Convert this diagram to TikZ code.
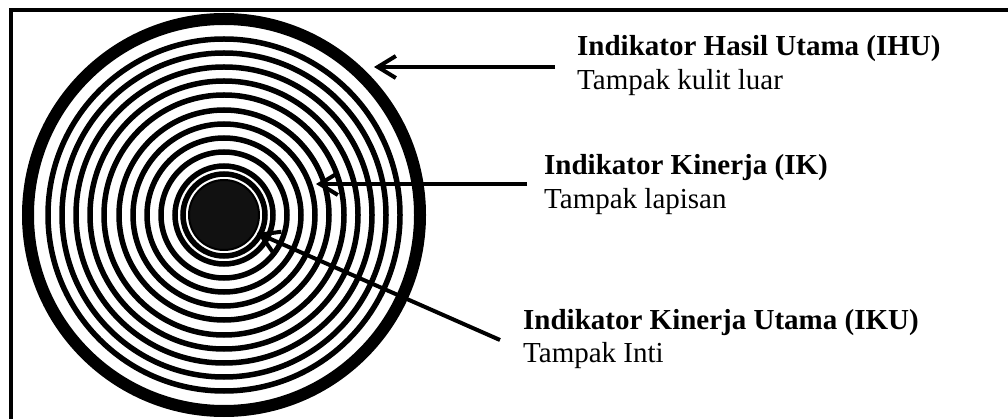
\documentclass[tikz,border=0pt]{standalone}
\usepackage{fontspec}
\setmainfont{Liberation Serif}
\usetikzlibrary{arrows.meta}
\definecolor{core}{HTML}{111111}
\begin{document}
\begin{tikzpicture}[x=1pt,y=-1pt,
  frame/.style={line width=4pt,line join=miter},
  ring/.style={draw=black,line width=5.5pt},
  rim/.style={draw=black,line width=12pt},
  coredisk/.style={draw=black,line width=2pt,fill=core},
  title/.style={font=\fontsize{29}{34}\selectfont\bfseries,inner sep=0pt,anchor=base west},
  subtitle/.style={font=\fontsize{29}{34}\selectfont,inner sep=0pt,anchor=base west},
  pointer/.style={line width=4pt,-{Straight Barb[length=18pt,width=22pt]}}]
\useasboundingbox (0,0) rectangle (1008,419);
\fill[white] (0,0) rectangle (1008,419);

% open frame (top and left edges)
\draw[frame] (11,419) -- (11,10) -- (1008,10);

% concentric layers
\coordinate (ctr) at (224,215);
\draw[rim] (ctr) circle[radius=196pt];
\foreach \r in {176,162,148,134,120,105,91,77,63,49,41}
  \draw[ring] (ctr) circle[radius=\r pt];
\draw[coredisk] (ctr) circle[radius=35pt];

% labels
\node[title]    (ihu-title) at (577,56)  {Indikator Hasil Utama (IHU)};
\node[subtitle] (ihu-sub)   at (577,90)  {Tampak kulit luar};
\node[title]    (ik-title)  at (544,175) {Indikator Kinerja (IK)};
\node[subtitle] (ik-sub)    at (544,209) {Tampak lapisan};
\node[title]    (iku-title) at (523,329) {Indikator Kinerja Utama (IKU)};
\node[subtitle] (iku-sub)   at (523,362) {Tampak Inti};

% pointers
\coordinate (ihu-from) at (555,67);
\coordinate (ihu-to)   at (374,67);
\coordinate (ik-from)  at (527,184);
\coordinate (ik-to)    at (316,184);
\coordinate (iku-from) at (500,340);
\coordinate (iku-to)   at (257,233);
\draw[pointer] (ihu-from) -- (ihu-to);
\draw[pointer] (ik-from) -- (ik-to);
\draw[pointer] (iku-from) -- (iku-to);
\end{tikzpicture}
\end{document}
